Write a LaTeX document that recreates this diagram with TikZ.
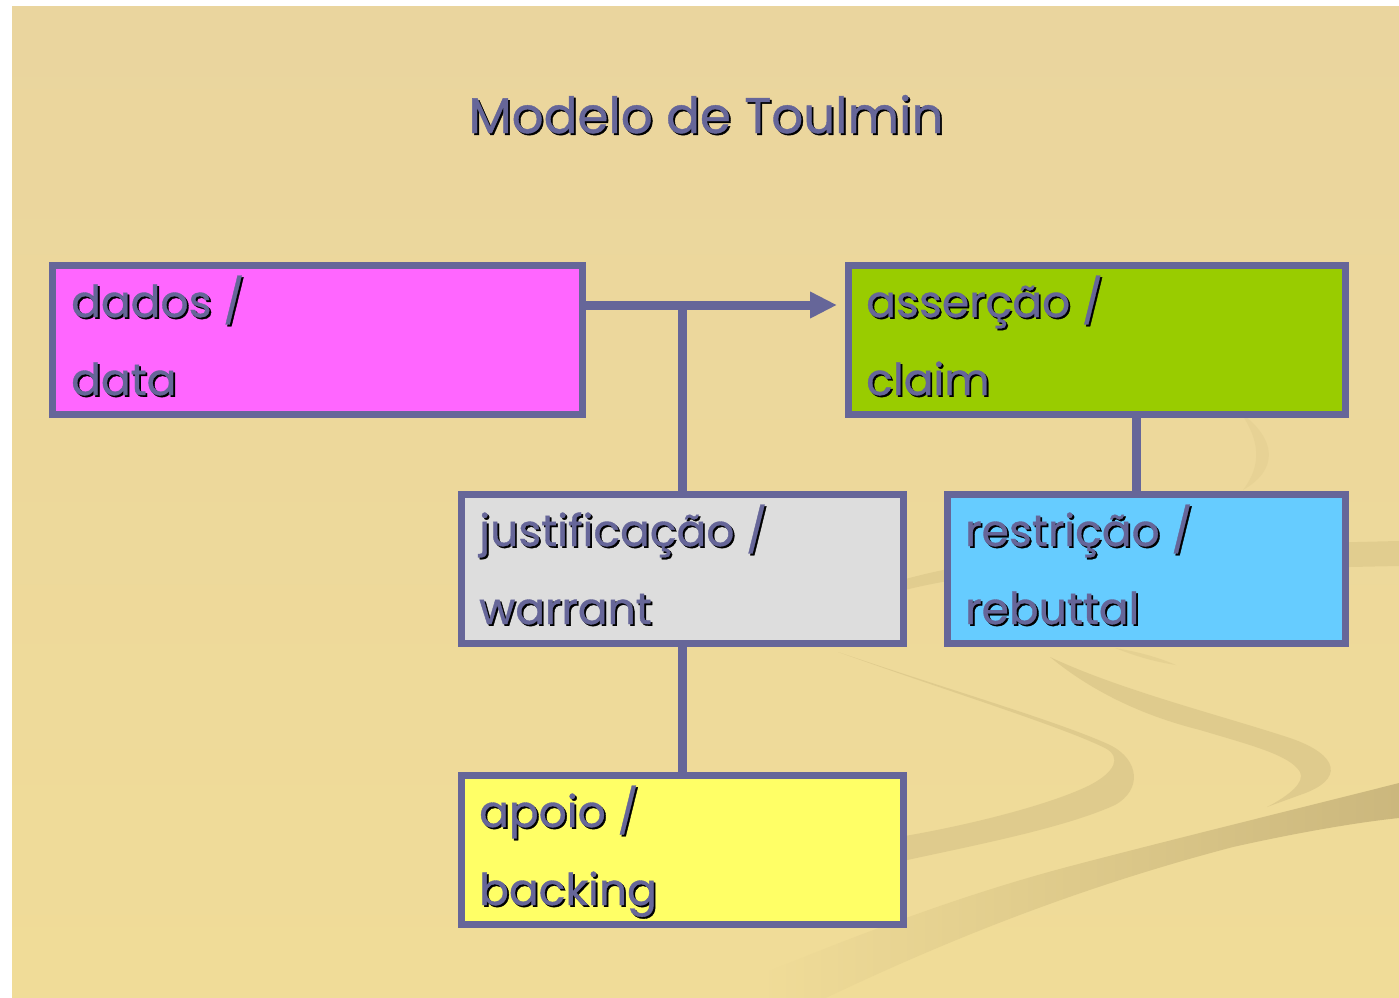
\documentclass[tikz,border=0pt]{standalone}
\usepackage{fontspec}
\setmainfont{Poppins}[FakeBold=0.8]
\usetikzlibrary{arrows.meta}
\definecolor{bgtop}{RGB}{234,213,158}
\definecolor{bgbot}{RGB}{240,220,152}
\definecolor{edge}{RGB}{102,102,153}
\definecolor{txt}{RGB}{102,102,153}
\definecolor{cdados}{RGB}{255,102,255}
\definecolor{cclaim}{RGB}{153,204,0}
\definecolor{cwarrant}{RGB}{221,221,221}
\definecolor{crebut}{RGB}{102,204,255}
\definecolor{cback}{RGB}{255,255,102}
\definecolor{wave}{RGB}{221,201,139}
\definecolor{wavedark}{RGB}{203,183,125}
\newcommand{\shtxt}[1]{\makebox[0pt][l]{\hspace*{1.8pt}\raisebox{-1.8pt}{\color{black}#1}}\textcolor{txt}{#1}}
\begin{document}
\begin{tikzpicture}[x=1pt,y=-1pt,
  box/.style={draw=edge, line width=7pt, inner sep=0pt, anchor=north west, minimum height=149pt},
  conn/.style={draw=edge, line width=9pt},
  lbl/.style={anchor=base west, inner sep=0pt, font=\fontsize{44}{50}\selectfont},
  wavefill/.style={fill=wave, draw=none}]
\useasboundingbox (0,0) rectangle (1399,997);
\fill[white] (0,0) rectangle (1399,997);
\shade[top color=bgtop, bottom color=bgbot] (12,6) rectangle (1399,997);
\begin{scope}
\clip (12,6) rectangle (1399,997);
% band C (large, bottom)
\shade[left color=bgbot, right color=wavedark, draw=none]
  (1399,783) .. controls (1300,808) and (1150,845) .. (1067,867)
  .. controls (980,890) and (880,925) .. (760,975)
  -- (760,1030) .. controls (900,960) and (1050,895) .. (1233,847)
  .. controls (1300,832) and (1360,822) .. (1399,818) -- cycle;
% band A
\fill[wave, opacity=0.85]
  (838,652) .. controls (950,690) and (1060,722) .. (1110,745)
  .. controls (1140,760) and (1142,790) .. (1115,805)
  .. controls (1060,830) and (960,848) .. (880,866)
  -- (880,840)
  .. controls (960,828) and (1050,805) .. (1090,785)
  .. controls (1115,772) and (1122,757) .. (1105,748)
  .. controls (1060,726) and (950,692) .. (838,652) -- cycle;
% band B
\fill[wave, opacity=0.85]
  (1050,657) .. controls (1120,690) and (1220,715) .. (1290,738)
  .. controls (1340,755) and (1345,780) .. (1300,795)
  -- (1267,807)
  .. controls (1290,795) and (1305,782) .. (1300,772)
  .. controls (1290,755) and (1250,745) .. (1200,730)
  .. controls (1140,715) and (1090,690) .. (1050,657) -- cycle;
% band D (behind rebuttal)
\fill[wave, opacity=0.7]
  (870,590) .. controls (920,572) and (1000,556) .. (1100,550)
  .. controls (1250,545) and (1350,542) .. (1399,541)
  -- (1399,566) .. controls (1300,568) and (1100,572) .. (1000,575)
  .. controls (950,578) and (900,590) .. (870,600) -- cycle;
% band E (faint crescent)
\fill[wave, opacity=0.35]
  (1240,412) .. controls (1278,440) and (1278,470) .. (1243,490)
  .. controls (1262,465) and (1260,440) .. (1240,412) -- cycle;
% band F (small tip)
\fill[wave, opacity=0.5]
  (1115,648) .. controls (1140,652) and (1160,658) .. (1176,665)
  .. controls (1155,662) and (1135,656) .. (1115,648) -- cycle;
\end{scope}

% title
\node[anchor=base, inner sep=0pt, font=\fontsize{50}{56}\selectfont] (title) at (706,133) {\shtxt{Modelo de Toulmin}};

% boxes (anchors at outer corners)
\node[box, fill=cdados, minimum width=530pt] (dados) at (49,262) {};
\node[box, fill=cclaim, minimum width=497pt] (claim) at (845,262) {};
\node[box, fill=cwarrant, minimum width=442pt] (warrant) at (458,491) {};
\node[box, fill=crebut, minimum width=398pt] (rebut) at (944,491) {};
\node[box, fill=cback, minimum width=442pt] (backing) at (458,772) {};

% connectors
\coordinate (j) at (682.5,305);
\coordinate (r) at (1136,418);
\draw[conn, -{Triangle[length=27pt,width=25pt]}, shorten >=8pt] (dados.east |- j) -- (claim.west |- j);
\draw[conn] (warrant.north |- j) -- (warrant.north);
\draw[conn] (warrant.south) -- (backing.north);
\draw[conn] (claim.south -| r) -- (rebut.north -| r);

% labels
\node[lbl] (dadosA) at (71,317) {\shtxt{dados /}};
\node[lbl] (dadosB) at (71,395) {\shtxt{data}};
\node[lbl] (claimA) at (866,317) {\shtxt{asserção /}};
\node[lbl] (claimB) at (866,395) {\shtxt{claim}};
\node[lbl] (warrantA) at (479,546) {\shtxt{justificação /}};
\node[lbl] (warrantB) at (479,624) {\shtxt{warrant}};
\node[lbl] (rebutA) at (965,546) {\shtxt{restrição /}};
\node[lbl] (rebutB) at (965,624) {\shtxt{rebuttal}};
\node[lbl] (backingA) at (479,827) {\shtxt{apoio /}};
\node[lbl] (backingB) at (479,905) {\shtxt{backing}};
\end{tikzpicture}
\end{document}
